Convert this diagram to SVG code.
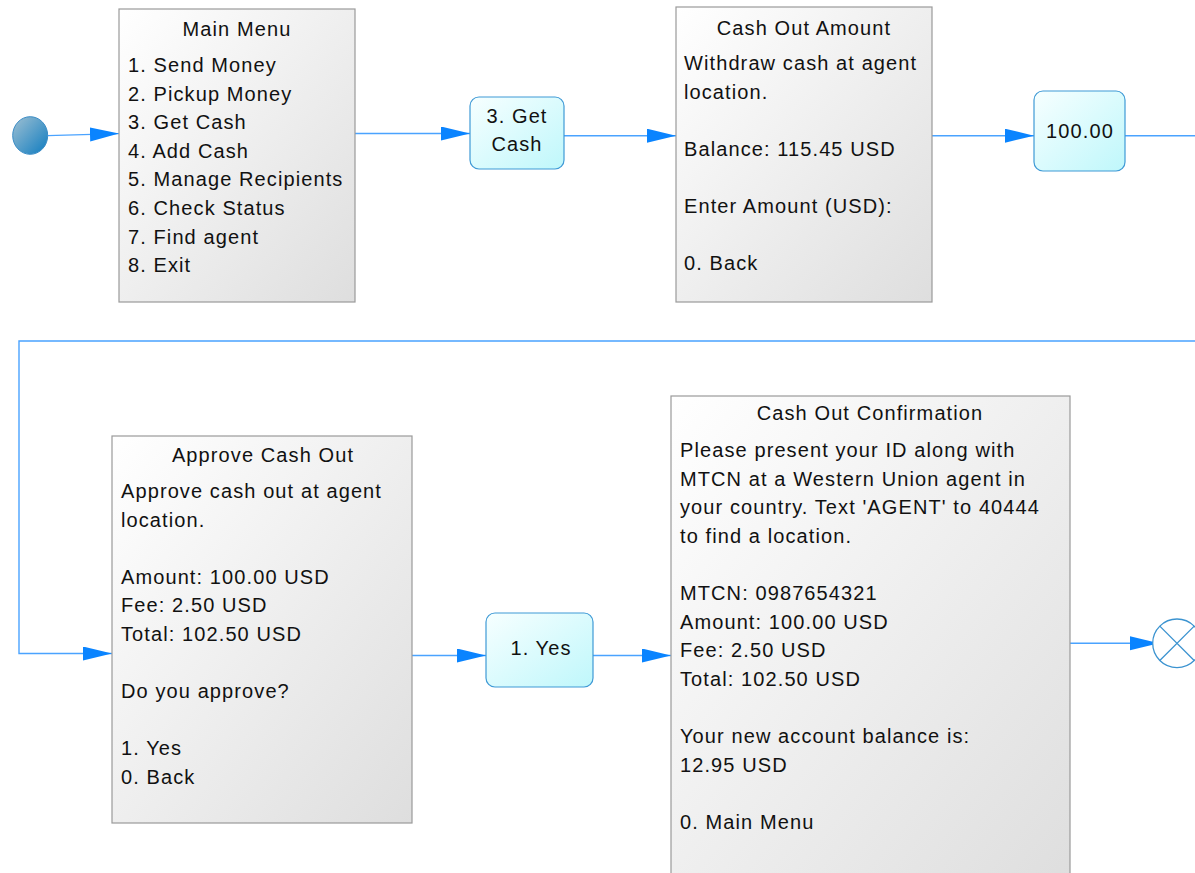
<svg xmlns="http://www.w3.org/2000/svg" width="1195" height="873" viewBox="0 0 1195 873">
  <defs>
    <linearGradient id="screenFill" x1="0" y1="0" x2="1" y2="1">
      <stop offset="0" stop-color="#ffffff"/>
      <stop offset="1" stop-color="#dedede"/>
    </linearGradient>
    <linearGradient id="choiceFill" x1="0" y1="0" x2="1" y2="1">
      <stop offset="0" stop-color="#f7ffff"/>
      <stop offset="1" stop-color="#bff7fb"/>
    </linearGradient>
    <linearGradient id="startFill" x1="0" y1="0" x2="1" y2="1">
      <stop offset="0" stop-color="#9fc0d2"/>
      <stop offset="1" stop-color="#0f7cc0"/>
    </linearGradient>
    <marker id="arrow" markerUnits="userSpaceOnUse" markerWidth="30" markerHeight="16" refX="29" refY="7" orient="auto">
      <path d="M0,0 L29,7 L0,14 z" fill="#0a84ff"/>
    </marker>
    <style>
      .screen { fill: url(#screenFill); stroke: #9a9a9a; stroke-width: 1.2; }
      .choice { fill: url(#choiceFill); stroke: #3f9ad6; stroke-width: 1.2; }
      .t { font-family: "Liberation Sans", Arial, sans-serif; font-size: 20px; fill: #111111; letter-spacing: 1.1px; }
      .c { text-anchor: middle; }
      .conn { fill: none; stroke: #4aa3ff; stroke-width: 1.4; }
    </style>
  </defs>

  <rect width="1195" height="873" fill="#ffffff"/>

  <!-- connectors -->
  <g id="connectors">
    <path class="conn" d="M47.5,135.6 L119,133.6" marker-end="url(#arrow)"/>
    <path class="conn" d="M355,133.5 H470" marker-end="url(#arrow)"/>
    <path class="conn" d="M564,135.7 H676" marker-end="url(#arrow)"/>
    <path class="conn" d="M932,135.7 H1034" marker-end="url(#arrow)"/>
    <path class="conn" d="M1125,135.7 H1215 V341 H19 V653.5 H112" marker-end="url(#arrow)"/>
    <path class="conn" d="M412,655.5 H486" marker-end="url(#arrow)"/>
    <path class="conn" d="M593,655.5 H671" marker-end="url(#arrow)"/>
    <path class="conn" d="M1070,643.3 H1159" marker-end="url(#arrow)"/>
  </g>

  <!-- start -->
  <g id="start">
    <ellipse cx="30.2" cy="135.5" rx="17.5" ry="18.8" fill="url(#startFill)" stroke="#3a8cc6" stroke-width="1"/>
  </g>

  <!-- main menu screen -->
  <g id="main-menu">
    <rect class="screen" x="119" y="9" width="236" height="293"/>
    <text class="t c" x="237" y="36">Main Menu</text>
    <text class="t" x="128" y="72">1. Send Money</text>
    <text class="t" x="128" y="100.6">2. Pickup Money</text>
    <text class="t" x="128" y="129.2">3. Get Cash</text>
    <text class="t" x="128" y="157.8">4. Add Cash</text>
    <text class="t" x="128" y="186.4">5. Manage Recipients</text>
    <text class="t" x="128" y="215">6. Check Status</text>
    <text class="t" x="128" y="243.6">7. Find agent</text>
    <text class="t" x="128" y="272.2">8. Exit</text>
  </g>

  <!-- choice: get cash -->
  <g id="choice-get-cash">
    <rect class="choice" x="470" y="97" width="94" height="72" rx="9"/>
    <text class="t c" x="517" y="122.5">3. Get</text>
    <text class="t c" x="517" y="151">Cash</text>
  </g>

  <!-- cash out amount screen -->
  <g id="cash-out-amount">
    <rect class="screen" x="676" y="7" width="256" height="295"/>
    <text class="t c" x="804" y="35">Cash Out Amount</text>
    <text class="t" x="684" y="70">Withdraw cash at agent</text>
    <text class="t" x="684" y="98.6">location.</text>
    <text class="t" x="684" y="155.8">Balance: 115.45 USD</text>
    <text class="t" x="684" y="213">Enter Amount (USD):</text>
    <text class="t" x="684" y="270.2">0. Back</text>
  </g>

  <!-- choice: amount -->
  <g id="choice-amount">
    <rect class="choice" x="1034" y="91" width="91" height="80" rx="9"/>
    <text class="t c" x="1080" y="137.5">100.00</text>
  </g>

  <!-- approve cash out screen -->
  <g id="approve-cash-out">
    <rect class="screen" x="112" y="436" width="300" height="387"/>
    <text class="t c" x="263" y="462">Approve Cash Out</text>
    <text class="t" x="121" y="498">Approve cash out at agent</text>
    <text class="t" x="121" y="526.6">location.</text>
    <text class="t" x="121" y="583.8">Amount: 100.00 USD</text>
    <text class="t" x="121" y="612.4">Fee: 2.50 USD</text>
    <text class="t" x="121" y="641">Total: 102.50 USD</text>
    <text class="t" x="121" y="698.2">Do you approve?</text>
    <text class="t" x="121" y="755.4">1. Yes</text>
    <text class="t" x="121" y="784">0. Back</text>
  </g>

  <!-- choice: yes -->
  <g id="choice-yes">
    <rect class="choice" x="486" y="613" width="107" height="74" rx="9"/>
    <text class="t c" x="541" y="655">1. Yes</text>
  </g>

  <!-- cash out confirmation screen -->
  <g id="cash-out-confirmation">
    <rect class="screen" x="671" y="396" width="399" height="490"/>
    <text class="t c" x="870" y="420">Cash Out Confirmation</text>
    <text class="t" x="680" y="457">Please present your ID along with</text>
    <text class="t" x="680" y="485.6">MTCN at a Western Union agent in</text>
    <text class="t" x="680" y="514.2">your country. Text 'AGENT' to 40444</text>
    <text class="t" x="680" y="542.8">to find a location.</text>
    <text class="t" x="680" y="600">MTCN: 0987654321</text>
    <text class="t" x="680" y="628.6">Amount: 100.00 USD</text>
    <text class="t" x="680" y="657.2">Fee: 2.50 USD</text>
    <text class="t" x="680" y="685.8">Total: 102.50 USD</text>
    <text class="t" x="680" y="743">Your new account balance is:</text>
    <text class="t" x="680" y="771.6">12.95 USD</text>
    <text class="t" x="680" y="828.8">0. Main Menu</text>
  </g>

  <!-- end -->
  <g id="end">
    <circle cx="1177" cy="643.3" r="24.3" fill="#ffffff" stroke="#3b93d0" stroke-width="1.3"/>
    <path d="M1159.8,626.1 L1194.2,660.5 M1159.8,660.5 L1194.2,626.1" stroke="#3b93d0" stroke-width="1.3" fill="none"/>
  </g>
</svg>
